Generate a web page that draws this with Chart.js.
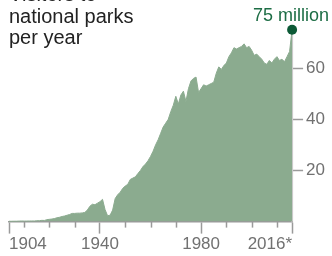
<!DOCTYPE html>
<html>
<head>
<meta charset="utf-8">
<script src="https://cdn.jsdelivr.net/npm/chart.js@4.4.0/dist/chart.umd.min.js"></script>
<style>
    html, body { margin: 0; padding: 0; background: #fff; overflow: hidden; }
    #wrap { position: relative; width: 332px; height: 256px; }
    #title {
        position: absolute; left: 9px; top: -15.7px;
        font: 20px "Liberation Sans", Arial, sans-serif; line-height: 21.5px;
        color: #222;
    }
</style>
</head>
<body>
<div id="wrap">
    <canvas id="parksChart" width="332" height="256"></canvas>
    <div id="title">Visitors to<br>national parks<br>per year</div>
</div>
<script>
// visitors per year, millions
const years = [];
for (let y = 1904; y <= 2016; y++) years.push(y);
const visitors = [
    0.12, 0.14, 0.15, 0.16, 0.20, 0.25, 0.20, 0.22, 0.23, 0.25,   // 1904-1913
    0.24, 0.34, 0.36, 0.49, 0.45, 0.76, 0.90, 1.0, 1.2, 1.5,      // 1914-1923
    1.7, 2.0, 2.2, 2.5, 2.8, 3.2, 3.2, 3.3, 3.3, 3.4,             // 1924-1933
    3.6, 4.5, 6.0, 6.8, 6.6, 7.2, 7.8, 8.7, 4.7, 2.3,             // 1934-1943
    2.5, 4.5, 9.0, 10.5, 11.5, 13.0, 13.9, 14.6, 16.5, 17.0,      // 1944-1953
    17.5, 18.8, 20.0, 21.5, 22.5, 23.8, 25.5, 27.5, 30.0, 32.0,   // 1954-1963
    34.5, 37.0, 38.5, 40.0, 43.0, 45.5, 49.0, 46.0, 49.5, 51.0,   // 1964-1973
    47.0, 52.0, 55.0, 56.0, 56.5, 50.5, 52.0, 53.5, 53.0, 53.5,   // 1974-1983
    54.0, 54.5, 58.0, 60.5, 59.5, 61.0, 62.0, 64.5, 66.0, 68.0,   // 1984-1993
    67.5, 68.0, 68.5, 69.5, 68.0, 68.5, 67.0, 65.0, 65.5, 64.5,   // 1994-2003
    63.5, 62.0, 61.5, 63.0, 62.0, 63.5, 64.5, 63.0, 63.5, 62.5,   // 2004-2013
    64.5, 66.5, 75.0                                              // 2014-2016
];
const majorYears = [1904, 1940, 1980, 2016];
const minorYears = [1910, 1920, 1930, 1950, 1960, 1970, 1990, 2000, 2010];
const yTicks = [20, 40, 60];
const lastLabel = '75 million';

const fontFamily = '"Liberation Sans", Arial, sans-serif';
const axisGray = '#9a9a9a';
const lastIdx = visitors.length - 1;

const parksOverlay = {
    id: 'parksOverlay',
    beforeDatasetsDraw(chart) {
        const ctx = chart.ctx;
        const x = chart.scales.x, y = chart.scales.y;
        const px = x.getPixelForValue(years[lastIdx]);
        ctx.save();
        ctx.strokeStyle = '#c9c9c9';
        ctx.lineWidth = 2;
        ctx.beginPath();
        ctx.moveTo(px, y.getPixelForValue(visitors[lastIdx]));
        ctx.lineTo(px, y.getPixelForValue(0));
        ctx.stroke();
        ctx.restore();
    },
    afterDraw(chart) {
        const ctx = chart.ctx;
        const x = chart.scales.x, y = chart.scales.y;
        const base = y.getPixelForValue(0);
        ctx.save();
        ctx.strokeStyle = axisGray;
        ctx.lineWidth = 1.5;
        minorYears.forEach(function (yr) {
            const px = Math.round(x.getPixelForValue(yr)) + 0.5;
            ctx.beginPath();
            ctx.moveTo(px, base);
            ctx.lineTo(px, base + 6);
            ctx.stroke();
        });
        const px = x.getPixelForValue(years[lastIdx]);
        const py = y.getPixelForValue(visitors[lastIdx]);
        ctx.fillStyle = '#1d6d45';
        ctx.font = '18px ' + fontFamily;
        ctx.textAlign = 'center';
        ctx.textBaseline = 'alphabetic';
        ctx.fillText(lastLabel, px - 1, py - 9);
        ctx.restore();
    }
};

const ctx = document.getElementById('parksChart').getContext('2d');
new Chart(ctx, {
    type: 'line',
    data: {
        datasets: [{
            data: years.map(function (yr, i) { return { x: yr, y: visitors[i] }; }),
            borderColor: '#8bab8f',
            backgroundColor: '#8bab8f',
            borderWidth: 1,
            fill: 'origin',
            tension: 0,
            pointRadius: function (c) { return c.dataIndex === lastIdx ? 5 : 0; },
            pointBackgroundColor: '#0c5a36',
            pointBorderWidth: 0,
            clip: false
        }]
    },
    options: {
        responsive: false,
        animation: false,
        layout: { padding: { left: 9, right: 4, top: 17, bottom: 0 } },
        plugins: { legend: { display: false }, tooltip: { enabled: false } },
        scales: {
            x: {
                type: 'linear',
                min: 1904,
                max: 2016,
                afterBuildTicks: function (s) { s.ticks = majorYears.map(function (v) { return { value: v }; }); },
                grid: { drawOnChartArea: false, tickLength: 12, tickColor: axisGray, tickWidth: 1.5 },
                border: { display: true, color: axisGray, width: 1.5 },
                ticks: {
                    align: 'inner',
                    maxRotation: 0,
                    autoSkip: false,
                    padding: 1,
                    color: '#717171',
                    font: { family: fontFamily, size: 17 },
                    callback: function (v) { return v === 2016 ? '2016*' : String(v); }
                }
            },
            y: {
                position: 'right',
                min: 0,
                max: 80,
                afterBuildTicks: function (s) { s.ticks = yTicks.map(function (v) { return { value: v }; }); },
                grid: { drawOnChartArea: false, tickLength: 11, tickColor: axisGray, tickWidth: 1.5 },
                border: { display: false },
                ticks: {
                    padding: 3,
                    color: '#717171',
                    font: { family: fontFamily, size: 17 }
                }
            }
        }
    },
    plugins: [parksOverlay]
});
</script>
</body>
</html>
